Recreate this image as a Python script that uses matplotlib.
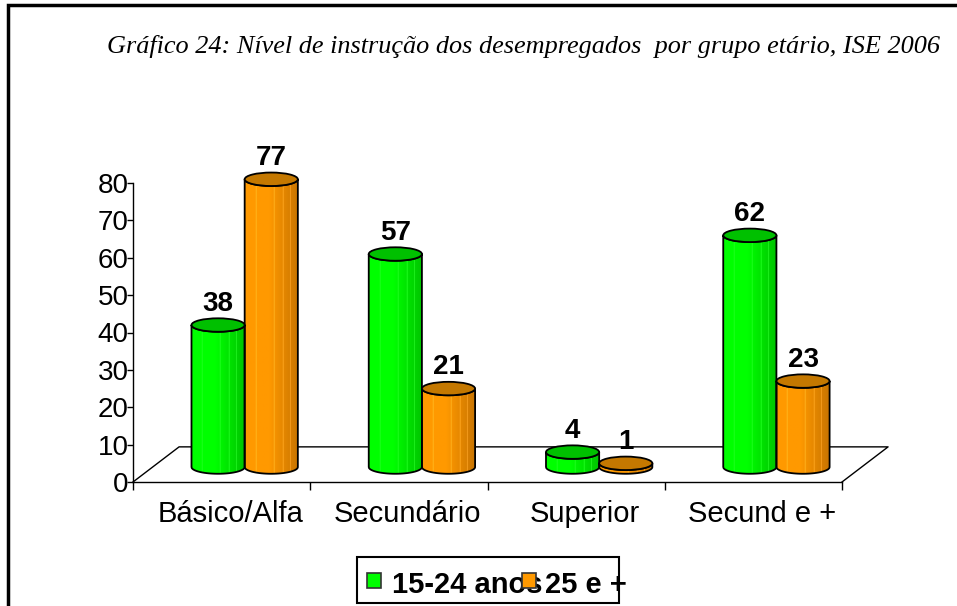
import numpy as np
import matplotlib
matplotlib.use("Agg")
import matplotlib.pyplot as plt
from matplotlib.patches import PathPatch, Ellipse, Rectangle
from matplotlib.path import Path
from matplotlib.colors import to_rgb

categories = ["Básico/Alfa", "Secundário", "Superior", "Secund e +"]
jovens = [38, 57, 4, 62]      # 15-24 anos
adultos = [77, 21, 1, 23]     # 25 e +
series_names = ["15-24 anos", "25 e +"]
yticks = [0, 10, 20, 30, 40, 50, 60, 70, 80]
title = "Gráfico 24: Nível de instrução dos desempregados  por grupo etário, ISE 2006"

plt.rcParams['font.family'] = ['Liberation Sans', 'DejaVu Sans']

# colours: body light, body dark, top
green = ("#00ff00", "#00c400", "#00c000")
orange = ("#ff9900", "#c87400", "#c47800")

# pseudo-3D settings (data units)
depth_x = 0.13     # half the floor depth, x shift
depth_y = 4.0      # bars sit in the middle of the floor
bar_w = 0.30
ry = 1.8           # half height of the cylinder ellipses


def shade(cols, n=60):
    light = np.array(to_rgb(cols[0]))
    dark = np.array(to_rgb(cols[1]))
    t = np.linspace(0, 1, n)
    f = np.clip((t - 0.45) / 0.55, 0, 1)[:, None]
    rgb = light * (1 - f) + dark * f
    # thin lighter stripes like the Excel cylinder
    for p in (0.22, 0.55, 0.72, 0.86):
        k = int(p * (n - 1))
        rgb[k] = np.minimum(rgb[k] + 0.12, 1)
    return rgb[None, :, :]


def cylinder(ax, x0, val, cols):
    b = depth_y
    t = depth_y + val
    x1 = x0 + bar_w
    cx = x0 + bar_w / 2
    th = np.linspace(np.pi, 2 * np.pi, 40)
    bot = [(cx + bar_w / 2 * np.cos(a), b + ry * np.sin(a)) for a in th]
    top = [(cx + bar_w / 2 * np.cos(a), t + ry * np.sin(a)) for a in th[::-1]]
    verts = bot + [(x1, t)] + top + [(x0, b)]
    codes = [Path.MOVETO] + [Path.LINETO] * (len(verts) - 1)
    body = PathPatch(Path(verts, codes), facecolor="none", edgecolor="black",
                     lw=1.3, zorder=4)
    ax.add_patch(body)
    im = ax.imshow(shade(cols), extent=(x0, x1, b - ry, t + ry), aspect="auto",
                   zorder=3, interpolation="bilinear")
    im.set_clip_path(body)
    cap = Ellipse((cx, t), bar_w, 2 * ry, facecolor=cols[2], edgecolor="black",
                  lw=1.3, zorder=5)
    ax.add_patch(cap)
    ax.annotate(str(val), (cx, t + ry), xytext=(0, 1), textcoords="offset points",
                ha="center", va="bottom", fontsize=20, fontweight="bold", zorder=6)


y_top = 92
px_per_unit = (482 - 183) / 80
fig = plt.figure(figsize=(9.57, 6.06), dpi=100)
ax = fig.add_axes([133 / 957, 1 - 482 / 606, (842 - 133) / 957,
                   y_top * px_per_unit / 606])

x = np.arange(len(categories))
for i in x:
    cylinder(ax, i + 0.5 + depth_x - bar_w, jovens[i], green)
    cylinder(ax, i + 0.5 + depth_x, adultos[i], orange)

# floor outline
n = len(categories)
ax.plot([0, 2 * depth_x, n + 2 * depth_x, n], [0, 9.4, 9.4, 0],
        color="black", lw=1, clip_on=False, zorder=1)

ax.set_xlim(0, n)
ax.set_ylim(0, y_top)
ax.set_yticks(yticks)
ax.tick_params(axis="y", labelsize=20, length=4, width=1, pad=-1)
ax.set_xticks(range(n + 1))
ax.set_xticklabels([])
ax.tick_params(axis="x", which="major", length=6, width=1)
ax.set_xticks(x + 0.55, minor=True)
ax.set_xticklabels(categories, minor=True)
ax.tick_params(axis="x", which="minor", length=0, labelsize=21, pad=13)
for s in ("top", "right"):
    ax.spines[s].set_visible(False)
ax.spines["left"].set_bounds(0, 80)
ax.spines["left"].set_linewidth(1)
ax.spines["bottom"].set_linewidth(1)
ax.patch.set_visible(False)

fig.text(107 / 957, 1 - 53 / 606, title, fontsize=18.9, style="italic",
         family="Liberation Serif", va="baseline", ha="left")

# outer chart frame (cropped at right and bottom like the source)
fig.add_artist(Rectangle((8 / 957, -0.1), 1.2, 1.1 - 5 / 606,
                         transform=fig.transFigure, fill=False, lw=2.5,
                         edgecolor="black"))

# legend box, drawn as in the Excel original (text overruns the frame)
fig.add_artist(Rectangle((357 / 957, 1 - 603 / 606), (619 - 357) / 957, 46 / 606,
                         transform=fig.transFigure, fill=False, lw=1.5,
                         edgecolor="black"))
leg_x = [367, 522]
txt_x = [392, 545]
for k, cols in enumerate((green, orange)):
    fig.add_artist(Rectangle((leg_x[k] / 957, 1 - 588 / 606), 14 / 957, 15 / 606,
                             transform=fig.transFigure, facecolor=cols[0],
                             edgecolor="#333333", lw=1.2, zorder=5 + k * 2))
    fig.text(txt_x[k] / 957, 1 - 593 / 606, series_names[k], fontsize=21,
             fontweight="bold", va="baseline", ha="left", zorder=6)

fig.savefig("out.png", dpi=100)
